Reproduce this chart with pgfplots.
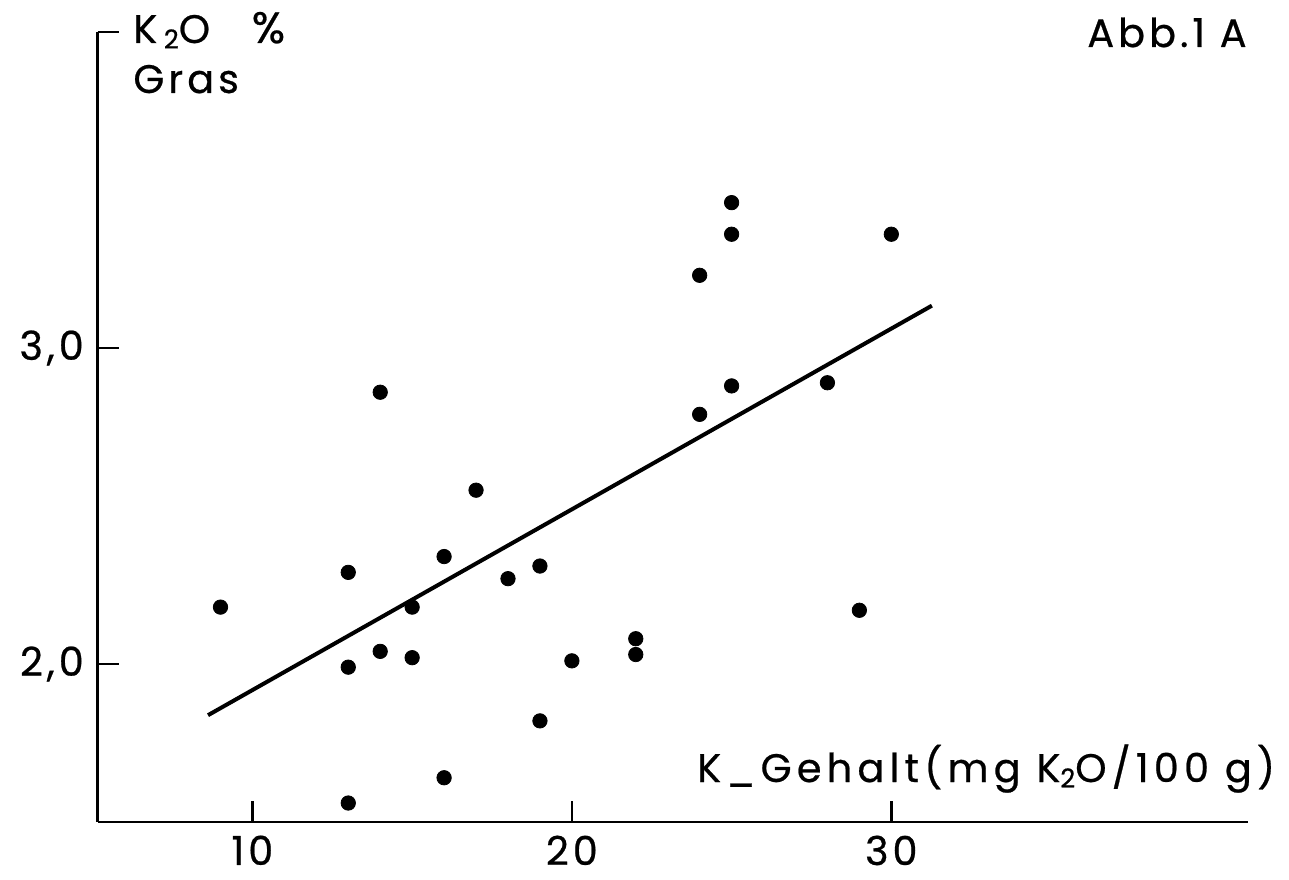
\documentclass[border=0pt]{standalone}
\usepackage{pgfplots}
\pgfplotsset{compat=1.18}
\usepackage{fontspec}
\setmainfont{Poppins}[LetterSpace=10,FakeBold=0.6]
\newfontfamily\widefont{Poppins}[LetterSpace=13,FakeBold=0.6]
\newcommand{\sub}[1]{\raisebox{-0.25ex}{\fontsize{13}{13}\selectfont #1}}
\begin{document}
\fontsize{20}{24}\selectfont
\begin{tikzpicture}
\begin{axis}[
 scale only axis, width=575bp, height=395bp,
 xmin=5.15, xmax=41.15, ymin=1.5, ymax=4.0,
 axis x line=bottom, axis y line=left,
 axis line style={-, line width=1.4bp},
 tick align=inside, major tick length=10.5bp,
 tick style={line width=1.3bp, black},
 xtick={10,20,30}, xticklabels={10,20,30},
 ytick={2,3,4}, yticklabels={{2,0},{3,0},{}},
 ticklabel style={font=\fontsize{20}{24}\selectfont},
 clip=false,
]
\addplot[only marks, mark=*, mark size=3.6bp, black] coordinates {
(9,2.18) (13,2.29) (13,1.99) (13,1.56) (14,2.86) (14,2.04)
(15,2.18) (15,2.02) (16,2.34) (16,1.64) (17,2.55) (18,2.27)
(19,2.31) (19,1.82) (20,2.01) (22,2.08) (22,2.03) (24,3.23)
(24,2.79) (25,3.46) (25,3.36) (25,2.88) (28,2.89) (29,2.17) (30,3.36)
};
\addplot[black, line width=2bp] coordinates {(8.61,1.838) (31.27,3.134)};
\coordinate (O) at (rel axis cs:0,0);
\end{axis}
\node[anchor=base west, inner sep=0] at ([xshift=17.75bp,yshift=389.5bp]O) {K\,\sub{2}O};
\node[anchor=base east, inner sep=0] at ([xshift=94bp,yshift=389.5bp]O) {\fontsize{22}{24}\selectfont\%};
\node[anchor=base west, inner sep=0] at ([xshift=17.75bp,yshift=364.5bp]O) {Gras};
\node[anchor=base east, inner sep=0] at ([xshift=574.75bp,yshift=387.5bp]O) {Abb.1 A};
\node[anchor=base east, inner sep=0] at ([xshift=589bp,yshift=20bp]O) {\widefont K\_Gehalt(mg K\sub{2}O/100 g)};
\pgfresetboundingbox
\path ([xshift=-48.75bp,yshift=-29bp]O) rectangle ([xshift=595.75bp,yshift=411bp]O);
\end{tikzpicture}
\end{document}
